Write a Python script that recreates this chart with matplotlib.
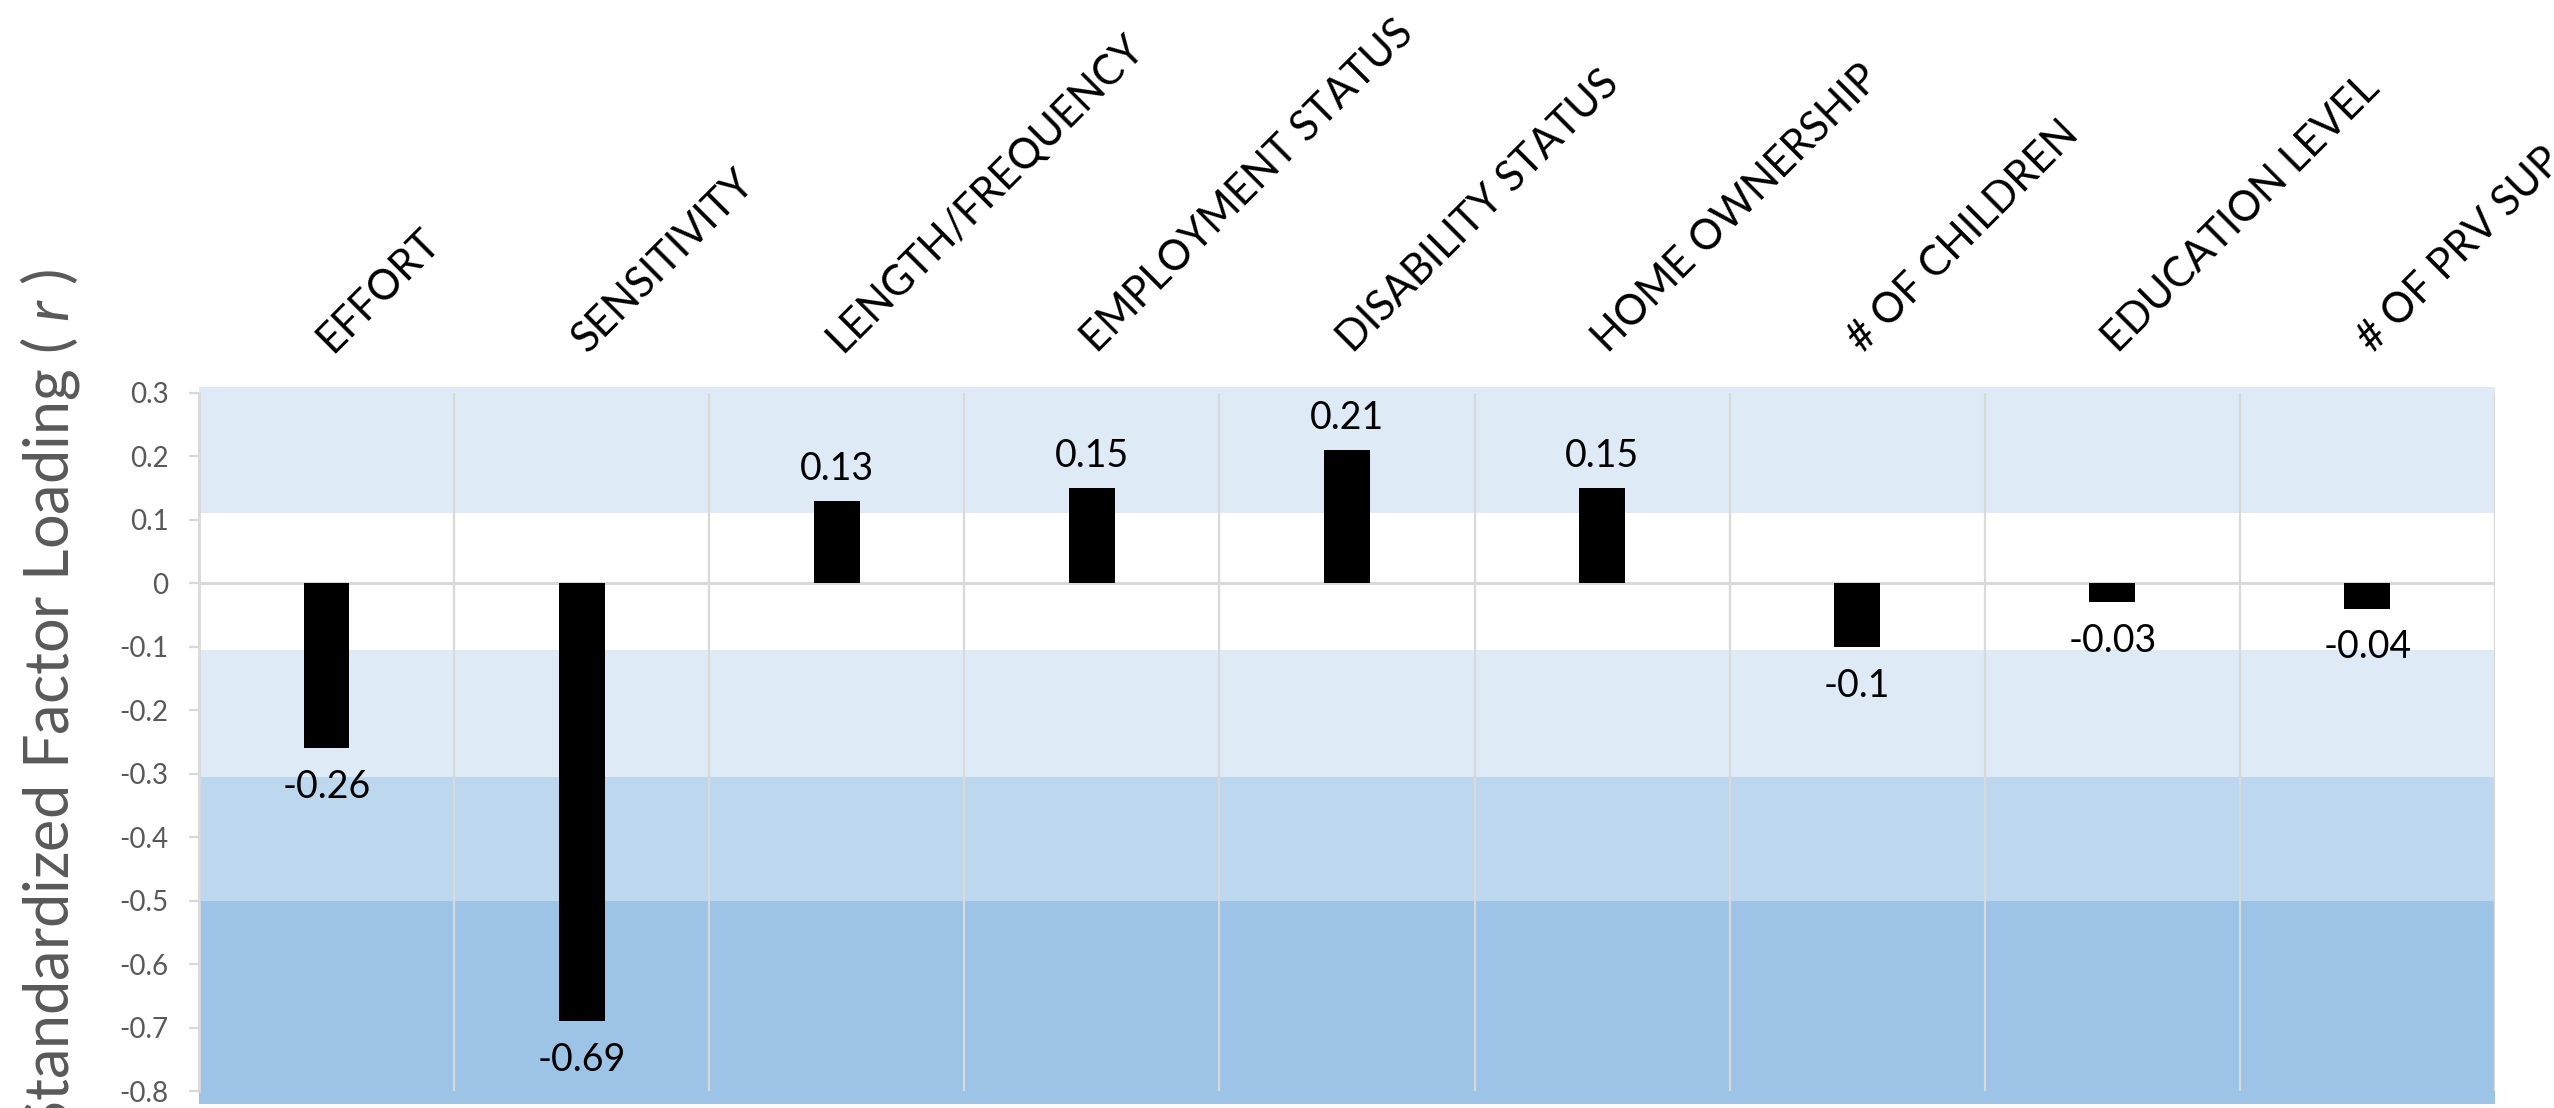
import numpy as np
import matplotlib
matplotlib.use("Agg")
import matplotlib.pyplot as plt

# ---------------- data ----------------
categories = ["EFFORT", "SENSITIVITY", "LENGTH/FREQUENCY", "EMPLOYMENT STATUS",
              "DISABILITY STATUS", "HOME OWNERSHIP", "# OF CHILDREN",
              "EDUCATION LEVEL", "# OF PRV SUP"]
loadings = [-0.26, -0.69, 0.13, 0.15, 0.21, 0.15, -0.10, -0.03, -0.04]
value_labels = ["-0.26", "-0.69", "0.13", "0.15", "0.21", "0.15", "-0.1", "-0.03", "-0.04"]

y_ticks = [0.3, 0.2, 0.1, 0, -0.1, -0.2, -0.3, -0.4, -0.5, -0.6, -0.7, -0.8]
y_tick_labels = ["0.3", "0.2", "0.1", "0", "-0.1", "-0.2", "-0.3", "-0.4",
                 "-0.5", "-0.6", "-0.7", "-0.8"]

# background bands (lower, upper, colour)
band_edges = [(0.11, 0.309, "#DEEAF6"),
              (-0.305, -0.105, "#DEEAF6"),
              (-0.5, -0.305, "#BDD7EE"),
              (-0.82, -0.5, "#9DC3E6")]

plt.rcParams["font.family"] = ["Lato", "DejaVu Sans"]
plt.rcParams["mathtext.fontset"] = "custom"
plt.rcParams["mathtext.it"] = "Lato:italic"
plt.rcParams["mathtext.rm"] = "Lato"

fig = plt.figure(figsize=(25.54, 11.08), dpi=100)
ax = fig.add_axes([0.0779, 0.0036, 0.899, 0.6471])

x = np.arange(len(categories))
ax.set_xlim(-0.5, len(categories) - 0.5)
ax.set_ylim(-0.82, 0.309)

for lo, hi, c in band_edges:
    ax.axhspan(lo, hi, color=c, lw=0, zorder=0)

# vertical category gridlines
ax.vlines(np.arange(0.5, len(categories), 1.0), -0.8, 0.3, color="#D9D9D9", lw=1.6, zorder=1)
ax.axhline(0, color="#D9D9D9", lw=2.2, zorder=1)

ax.bar(x, loadings, width=0.18, color="black", zorder=3)

for i, (v, s) in enumerate(zip(loadings, value_labels)):
    if v >= 0:
        ax.annotate(s, (i, v), xytext=(0, 10), textcoords="offset points",
                    ha="center", va="bottom", fontsize=27, color="black")
    else:
        ax.annotate(s, (i, v), xytext=(0, -15), textcoords="offset points",
                    ha="center", va="top", fontsize=27, color="black")

# rotated category labels above the plot
for i, name in enumerate(categories):
    ax.annotate(name, (i, 1.0), xycoords=("data", "axes fraction"),
                xytext=(4, 24), textcoords="offset points",
                rotation=45, rotation_mode="anchor", ha="left", va="baseline",
                fontsize=30, color="black", annotation_clip=False)

ax.set_xticks([])
ax.set_yticks(y_ticks)
ax.set_yticklabels(y_tick_labels, fontsize=20, color="#595959")
ax.tick_params(axis="y", length=7, width=1.6, color="#D9D9D9", pad=15)

for side in ["top", "right", "bottom"]:
    ax.spines[side].set_visible(False)
ax.spines["left"].set_color("#D9D9D9")
ax.spines["left"].set_linewidth(2)
ax.spines["left"].set_bounds(-0.8, 0.3)

fig.text(0.0195, 0.757, "Standardized Factor Loading ( $\\mathit{r}$ )",
         rotation=90, ha="center", va="top", fontsize=44,
         color="#595959")

fig.savefig("out.png", dpi=100)
